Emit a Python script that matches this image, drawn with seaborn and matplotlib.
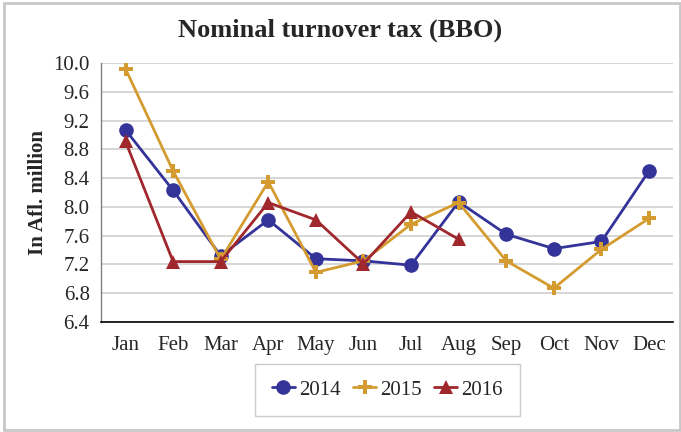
import numpy as np
import pandas as pd
import matplotlib
matplotlib.use('Agg')
import matplotlib.pyplot as plt
from matplotlib.patches import Rectangle
import seaborn as sns

# Data (In Afl. million)
months = ['Jan', 'Feb', 'Mar', 'Apr', 'May', 'Jun', 'Jul', 'Aug', 'Sep', 'Oct', 'Nov', 'Dec']
tax_2014 = [9.07, 8.23, 7.32, 7.82, 7.28, 7.25, 7.19, 8.07, 7.62, 7.42, 7.52, 8.50]
tax_2015 = [9.92, 8.50, 7.27, 8.35, 7.09, 7.25, 7.76, 8.06, 7.25, 6.87, 7.41, 7.84]
tax_2016 = [8.91, 7.24, 7.24, 8.06, 7.82, 7.21, 7.93, 7.55]
yticks = [6.4, 6.8, 7.2, 7.6, 8.0, 8.4, 8.8, 9.2, 9.6, 10.0]

frames = []
for year, vals in [('2014', tax_2014), ('2015', tax_2015), ('2016', tax_2016)]:
    frames.append(pd.DataFrame({'month': months[:len(vals)],
                                'pos': range(len(vals)),
                                'value': vals,
                                'year': year}))
df = pd.concat(frames, ignore_index=True)

sns.set_style('white')
plt.rcParams['font.family'] = ['Liberation Serif', 'DejaVu Serif']

palette = {'2014': '#333399', '2015': '#D49C30', '2016': '#A0282D'}
markers = {'2014': 'o', '2015': 'P', '2016': '^'}

fig = plt.figure(figsize=(6.81, 4.32), dpi=100)
ax = fig.add_axes([0.148, 0.2546, 0.84, 0.5994])

sns.lineplot(data=df, x='pos', y='value', hue='year', style='year',
             palette=palette, markers=markers, dashes=False,
             linewidth=2.0, markersize=10.5, markeredgewidth=0, ax=ax)

ax.set_xlim(-0.52, 11.5)
ax.set_ylim(6.4, 10.0)
ax.set_yticks(yticks)
ax.set_yticklabels([f'{t:.1f}' for t in yticks], fontsize=15)
ax.set_xticks(range(len(months)))
ax.set_xticklabels(months, fontsize=15)
ax.tick_params(axis='both', length=0, pad=8)
ax.tick_params(axis='x', pad=10)

ax.grid(axis='y', color='#d0d0d0', linewidth=1.2)
ax.set_axisbelow(True)
for side in ['top', 'right']:
    ax.spines[side].set_visible(False)
ax.spines['left'].set_color('#808080')
ax.spines['left'].set_linewidth(1.0)
ax.spines['bottom'].set_color('black')
ax.spines['bottom'].set_linewidth(1.2)

ax.set_xlabel('')
ax.set_ylabel('In Afl. million', fontsize=15, fontweight='bold', labelpad=4)
fig.suptitle('Nominal turnover tax (BBO)', fontsize=19, fontweight='bold', y=0.958)

handles, labels = ax.get_legend_handles_labels()
leg = ax.legend(handles, labels, loc='center', bbox_to_anchor=(0.501, -0.2625),
                ncol=3, frameon=True, fancybox=False, fontsize=15,
                handlelength=1.1, handletextpad=0.2, columnspacing=0.6,
                borderpad=0.8)
leg.get_frame().set_edgecolor('#c0c0c0')
leg.get_frame().set_linewidth(1.0)

fig.patches.append(Rectangle((0.006, 0.004), 0.992, 0.988, transform=fig.transFigure,
                             fill=False, edgecolor='#c8c8c8', linewidth=2.0))

fig.savefig('out.png', dpi=100)
